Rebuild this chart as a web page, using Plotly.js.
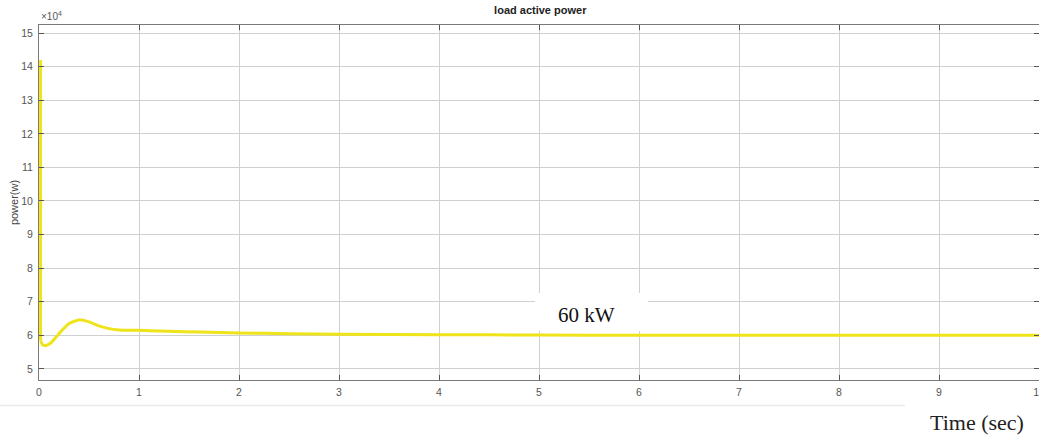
<!DOCTYPE html>
<html>
<head>
<meta charset="utf-8">
<script src="https://cdn.plot.ly/plotly-3.0.1.min.js"></script>
<style>html,body{margin:0;padding:0;background:#fff;}#chart{width:1039px;height:435px;}</style>
</head>
<body>
<div id="chart"></div>
<script>
// time in seconds
const timeSec = [0.016, 0.016, 0.035, 0.07, 0.12, 0.2, 0.3, 0.4, 0.5, 0.6, 0.7, 0.8, 0.9, 1.0, 1.1, 1.3, 1.6, 2, 2.5, 3, 4, 5, 6, 7, 8, 9, 10];
// load active power in W
const powerW = [142000, 58500, 57200, 57000, 57800, 60500, 63500, 64600, 64000, 62800, 62000, 61600, 61500, 61500, 61400, 61200, 61000, 60700, 60500, 60300, 60200, 60100, 60000, 60000, 60000, 60000, 60000];
const yTickVals = [50000, 60000, 70000, 80000, 90000, 100000, 110000, 120000, 130000, 140000, 150000];
const yTickText = ['5', '6', '7', '8', '9', '10', '11', '12', '13', '14', '15'];
const xTickVals = [0, 1, 2, 3, 4, 5, 6, 7, 8, 9, 10];

// initial drop drawn as straight segment, remainder smooth
const dropTrace = {
  x: timeSec.slice(0, 2), y: powerW.slice(0, 2), type: 'scatter', mode: 'lines',
  line: {color: '#efe31a', width: 3}, hoverinfo: 'skip'
};
const trace = {
  x: timeSec.slice(1), y: powerW.slice(1), type: 'scatter', mode: 'lines',
  line: {color: '#efe31a', width: 3, shape: 'spline', smoothing: 0.6},
  hoverinfo: 'skip'
};

const axisCommon = {
  showline: true, linecolor: '#7a7a7a', linewidth: 1, mirror: 'ticks',
  ticks: 'inside', ticklen: 5, tickcolor: '#555', tickwidth: 1,
  showgrid: true, gridcolor: '#d0d0d0', gridwidth: 1,
  zeroline: false, ticklabeloverflow: 'allow',
  tickfont: {family: 'Liberation Sans, Arial, sans-serif', size: 10.5, color: '#555'}
};

const layout = {
  width: 1039, height: 435,
  margin: {l: 39, r: 0, t: 25, b: 55},
  paper_bgcolor: '#fff', plot_bgcolor: '#fff',
  showlegend: false,
  title: {text: '<b>load active power</b>', x: 0.52, xanchor: 'center', y: 0.985, yanchor: 'top',
          font: {family: 'Liberation Sans, Arial, sans-serif', size: 11, color: '#222'}},
  xaxis: Object.assign({}, axisCommon, {
    range: [0, 10], tickvals: xTickVals, ticklabelstandoff: 2
  }),
  yaxis: Object.assign({}, axisCommon, {
    range: [46700, 152400], tickvals: yTickVals, ticktext: yTickText, ticklabelstandoff: 3,
    title: {text: 'power(w)', standoff: 0, font: {family: 'Liberation Sans, Arial, sans-serif', size: 11, color: '#444'}}
  }),
  shapes: [
    {type: 'rect', xref: 'x', yref: 'y', x0: 4.96, x1: 6.09, y0: 61300, y1: 72600,
     fillcolor: '#fff', line: {width: 0}, layer: 'between'},
    {type: 'line', xref: 'paper', yref: 'paper', x0: -0.039, x1: 0.866, y0: -0.072, y1: -0.072,
     line: {color: '#ececec', width: 1.5}}
  ],
  annotations: [
    {text: '60 kW', xref: 'x', yref: 'y', x: 5.47, y: 66200, showarrow: false,
     xanchor: 'center', yanchor: 'middle',
     font: {family: 'Liberation Serif, Times New Roman, serif', size: 21, color: '#111'}},
    {text: 'Time (sec)', xref: 'paper', yref: 'paper', x: 0.938, y: -0.12, showarrow: false,
     xanchor: 'center', yanchor: 'middle',
     font: {family: 'Liberation Serif, Times New Roman, serif', size: 22, color: '#222'}},
    {text: '×10<sup>4</sup>', xref: 'paper', yref: 'paper', x: 0.0, y: 1.0, showarrow: false,
     xanchor: 'left', yanchor: 'bottom', yshift: 1,
     font: {family: 'Liberation Sans, Arial, sans-serif', size: 10, color: '#555'}}
  ]
};

Plotly.newPlot('chart', [dropTrace, trace], layout, {displayModeBar: false, staticPlot: true});
</script>
</body>
</html>
